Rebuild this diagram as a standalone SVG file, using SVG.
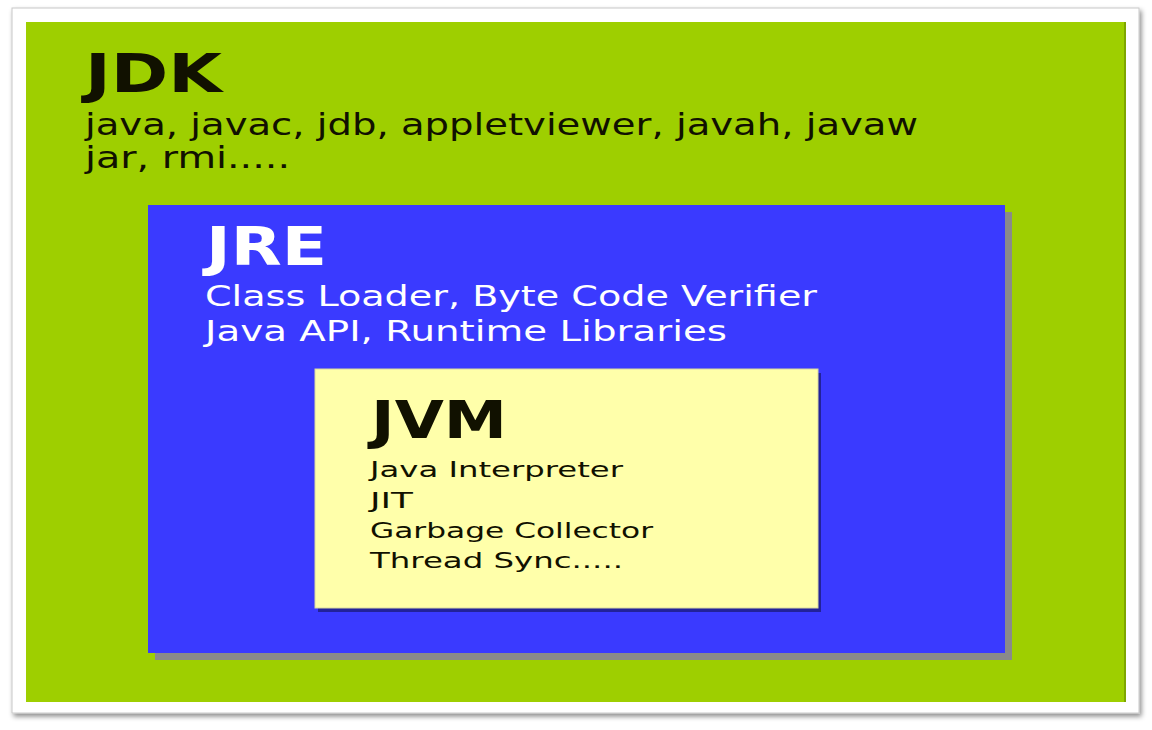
<svg xmlns="http://www.w3.org/2000/svg" width="1152" height="730" viewBox="0 0 1152 730">
  <defs>
    <filter id="frameShadow" x="-5%" y="-5%" width="110%" height="110%">
      <feDropShadow dx="2" dy="3" stdDeviation="2.5" flood-color="#000" flood-opacity="0.45"/>
    </filter>
  </defs>
  <style>
    text { font-family: "DejaVu Sans", Verdana, "Liberation Sans", sans-serif; }
    .title { font-weight: bold; }
    .dark { fill: #111100; }
    .light { fill: #ffffff; }
  </style>
  <rect width="1152" height="730" fill="#ffffff"/>
  <!-- frame -->
  <rect x="12" y="8" width="1127" height="705" fill="#ffffff" stroke="#c8c8c8" stroke-width="1" filter="url(#frameShadow)"/>
  <g id="jdk">
    <rect x="26" y="22" width="1100" height="680" fill="#9ecf00"/>
    <rect x="1124" y="22" width="2" height="680" fill="#7ea600"/>
    <text class="title dark" x="85" y="92" font-size="54" textLength="137" lengthAdjust="spacingAndGlyphs">JDK</text>
    <text class="dark" x="85" y="135" font-size="31" textLength="833" lengthAdjust="spacingAndGlyphs">java, javac, jdb, appletviewer, javah, javaw</text>
    <text class="dark" x="85" y="168" font-size="31" textLength="205" lengthAdjust="spacingAndGlyphs">jar, rmi.....</text>
  </g>
  <g id="jre">
    <rect x="155" y="212" width="857" height="448" fill="#8a8a8a"/>
    <rect x="148" y="205" width="857" height="448" fill="#3a3aff"/>
    <text class="title light" x="206" y="265" font-size="54" textLength="121" lengthAdjust="spacingAndGlyphs">JRE</text>
    <text class="light" x="205" y="306" font-size="29" textLength="612" lengthAdjust="spacingAndGlyphs">Class Loader, Byte Code Verifier</text>
    <text class="light" x="205" y="341" font-size="29" textLength="522" lengthAdjust="spacingAndGlyphs">Java API, Runtime Libraries</text>
  </g>
  <g id="jvm">
    <rect x="318" y="373" width="503" height="239" fill="#22229a"/>
    <rect x="315" y="369" width="503" height="239" fill="#ffffaa" stroke="#d8d8a0" stroke-width="1"/>
    <text class="title dark" x="371" y="438" font-size="52" textLength="136" lengthAdjust="spacingAndGlyphs">JVM</text>
    <text class="dark" x="370" y="477" font-size="21" textLength="253" lengthAdjust="spacingAndGlyphs">Java Interpreter</text>
    <text class="dark" x="370" y="508" font-size="21" textLength="43" lengthAdjust="spacingAndGlyphs">JIT</text>
    <text class="dark" x="370" y="538" font-size="21" textLength="283" lengthAdjust="spacingAndGlyphs">Garbage Collector</text>
    <text class="dark" x="370" y="568" font-size="21" textLength="253" lengthAdjust="spacingAndGlyphs">Thread Sync.....</text>
  </g>
  <g id="connectors"/>
</svg>
